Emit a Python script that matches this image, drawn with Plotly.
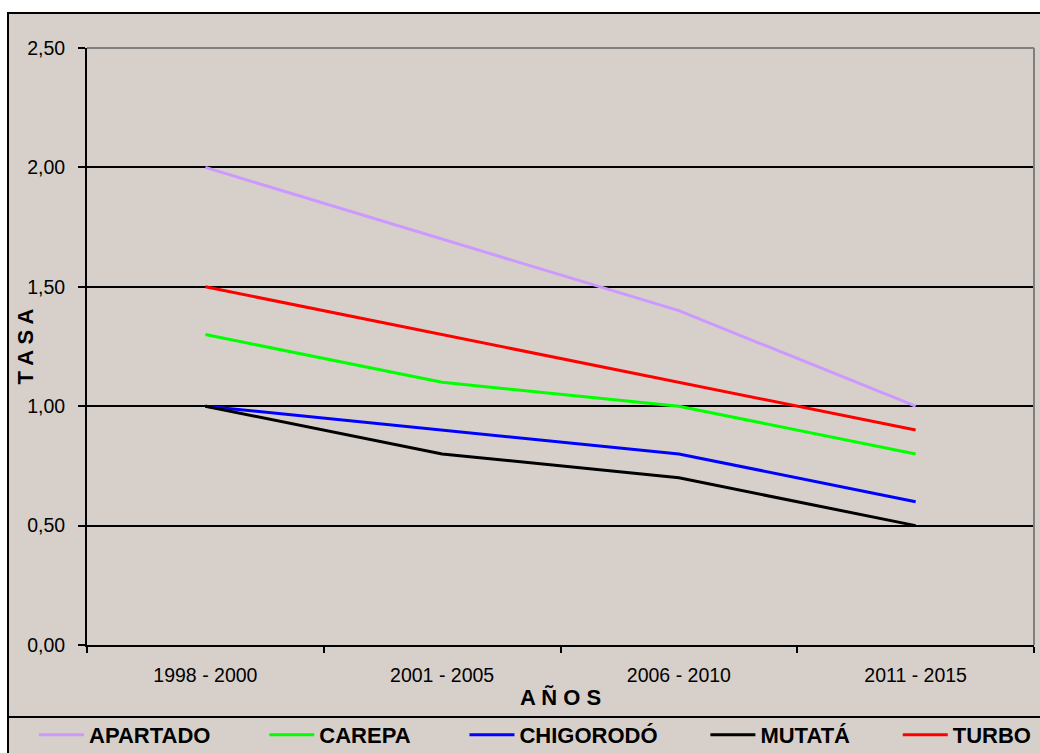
import plotly.graph_objects as go

categories = ["1998 - 2000", "2001 - 2005", "2006 - 2010", "2011 - 2015"]
series_names = ["APARTADO", "CAREPA", "CHIGORODÓ", "MUTATÁ", "TURBO"]
apartado = [2.0, 1.7, 1.4, 1.0]
carepa = [1.3, 1.1, 1.0, 0.8]
chigorodo = [1.0, 0.9, 0.8, 0.6]
mutata = [1.0, 0.8, 0.7, 0.5]
turbo = [1.5, 1.3, 1.1, 0.9]
colors = ["#CC99FF", "#00FF00", "#0000FF", "#000000", "#FF0000"]
y_ticks = [0, 0.5, 1.0, 1.5, 2.0, 2.5]
# trailing non-breaking spaces pad legend entries to the reference spacing
legend_pad = [8, 8, 7, 7, 0]

W, H = 1040, 753
L, R, T, B = 87, 1034, 48, 645
BG = "#D7D0CA"
FONT = "Liberation Sans, Arial, sans-serif"


def px_x(p):
    return (p - L) / (R - L)


def px_y(p):
    return (B - p) / (B - T)


fig = go.Figure()
for name, vals, col, pad in zip(series_names, [apartado, carepa, chigorodo, mutata, turbo], colors, legend_pad):
    fig.add_trace(go.Scatter(x=categories, y=vals, name=name + "\u00a0" * pad, mode="lines",
                             line=dict(color=col, width=3)))

fig.update_layout(
    width=W, height=H,
    margin=dict(l=L, r=W - R, t=T, b=H - B, pad=0, autoexpand=False),
    paper_bgcolor="white",
    plot_bgcolor=BG,
    separators=",.",
    font=dict(family=FONT, color="black", size=19.5),
    showlegend=True,
    legend=dict(orientation="h", x=px_x(34), xanchor="left", y=px_y(735), yanchor="middle",
                bgcolor="rgba(0,0,0,0)", borderwidth=0,
                font=dict(family=FONT, size=22, color="black", weight="bold"),
                itemwidth=45),
    xaxis=dict(type="category", tickson="boundaries", ticks="outside", ticklen=6, tickwidth=2,
               tickcolor="black", showline=True, linecolor="black", linewidth=2,
               showgrid=False, zeroline=False, ticklabelstandoff=12,
               tickfont=dict(size=19.5, family=FONT), automargin=False,
               range=[-0.5, 3.5]),
    yaxis=dict(range=[0, 2.5], tickvals=y_ticks, tickformat=".2f", ticks="outside", ticklen=7,
               tickwidth=2, tickcolor="black", showline=True, linecolor="black", linewidth=2,
               showgrid=True, gridcolor="black", gridwidth=1.5, zeroline=False,
               ticklabelstandoff=9, tickfont=dict(size=19.5, family=FONT), automargin=False),
    annotations=[
        dict(text="T A S A", xref="paper", yref="paper", x=px_x(25), y=0.5, textangle=-90,
             showarrow=False, font=dict(size=22, family=FONT, weight="bold"),
             xanchor="center", yanchor="middle"),
        dict(text="A Ñ O S", xref="paper", yref="paper", x=0.5, y=px_y(697),
             showarrow=False, font=dict(size=22, family=FONT, weight="bold"),
             xanchor="center", yanchor="middle"),
    ],
    shapes=[
        dict(type="rect", xref="paper", yref="paper", x0=px_x(8), y0=px_y(800), x1=px_x(1100),
             y1=px_y(13), line=dict(color="black", width=2), fillcolor=BG, layer="below"),
        dict(type="line", xref="paper", yref="paper", x0=px_x(8), x1=px_x(1100), y0=px_y(717),
             y1=px_y(717), line=dict(color="black", width=2)),
        dict(type="line", xref="paper", yref="paper", x0=0, x1=1, y0=1, y1=1,
             line=dict(color="#808080", width=2)),
        dict(type="line", xref="paper", yref="paper", x0=1, x1=1, y0=0, y1=1,
             line=dict(color="#808080", width=2)),
    ],
)

fig.write_html("out.html",
               config={"displayModeBar": False},
               post_script="document.body.style.margin='0';document.body.style.padding='0';"
                           "document.body.style.overflow='hidden';"
                           "document.documentElement.style.overflow='hidden';")
